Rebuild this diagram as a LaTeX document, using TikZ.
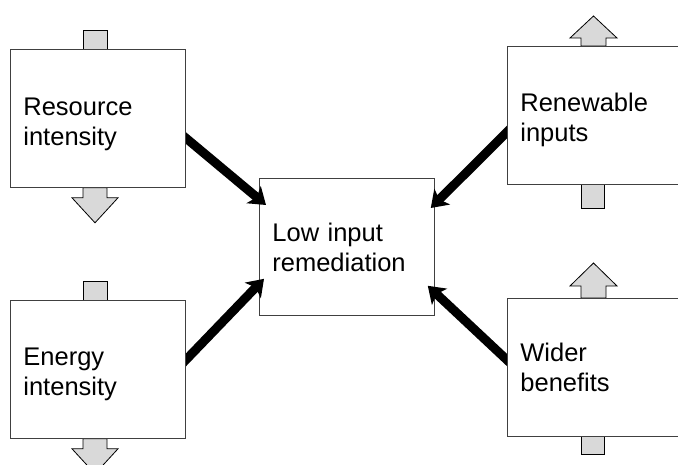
\documentclass[tikz,border=0pt]{standalone}
\usepackage{fontspec}
\setmainfont{Liberation Sans}
\usetikzlibrary{arrows.meta,calc}
\pgfdeclarelayer{back}
\pgfdeclarelayer{mid}
\pgfsetlayers{back,mid,main}
\begin{document}
\begin{tikzpicture}[x=1pt,y=-1pt,
  box/.style={draw=black!75, fill=white, line width=0.8pt, anchor=north west,
    minimum width=175pt, minimum height=138pt, inner xsep=13pt, inner ysep=0pt,
    text width=149pt, align=left, font=\fontsize{25.5}{30}\selectfont},
  drop/.style={execute at begin node={\rule{0pt}{#1}}},
  blk/.style={draw=black, fill=black!15, line width=0.8pt, line join=miter},
  conn/.style={line width=9pt, -{Stealth[length=16pt,width=22pt,inset=4pt]},
    shorten <=-6pt}]
\useasboundingbox (0,0) rectangle (678,465);

% central box sits underneath everything else
\begin{pgfonlayer}{back}
\node[box, minimum height=137pt] (low) at (259,178) {Low input\\remediation};
\end{pgfonlayer}

% the four surrounding boxes
\node[box, drop=28.5pt] (res) at (10,49) {Resource\\intensity};
\node[box, drop=27pt]   (en)  at (10,300) {Energy\\intensity};
\node[box, drop=27.5pt] (ren) at (507,46) {Renewable\\inputs};
\node[box] (wid) at (507,298) {Wider\\benefits};

\begin{pgfonlayer}{mid}
% thick links into the central box
\draw[conn] ($(res.north east)+(0,89)$) -- ($(low.north west)+(7,27)$);
\draw[conn] ($(en.north east)+(0,60)$) -- ($(low.south west)+(5,-37)$);
\draw[conn] ($(ren.north west)+(0,86)$) -- ($(low.north east)+(-4,30)$);
\draw[conn] ($(wid.north west)+(0,62)$) -- ($(low.south east)+(-7,-30)$);

% grey stubs and block arrows on the left boxes
\draw[blk] ($(res.north west)+(73,0)$) rectangle ($(res.north west)+(97,-19)$);
\draw[blk] ($(res.south west)+(73,0)$) -- ++(0,10) -- ++(-11,0) -- ++(23,25)
  -- ++(23,-25) -- ++(-11,0) -- ++(0,-10) -- cycle;
\draw[blk] ($(en.north west)+(73,0)$) rectangle ($(en.north west)+(97,-19)$);
\draw[blk] ($(en.south west)+(73,0)$) -- ++(0,10) -- ++(-11,0) -- ++(23,25)
  -- ++(23,-25) -- ++(-11,0) -- ++(0,-10) -- cycle;

% grey stubs and block arrows on the right boxes
\draw[blk] ($(ren.north west)+(74,0)$) -- ++(0,-8) -- ++(-11,0) -- ++(23.5,-22)
  -- ++(23.5,22) -- ++(-11,0) -- ++(0,8) -- cycle;
\draw[blk] ($(ren.south west)+(74,0)$) rectangle ($(ren.south west)+(97,24)$);
\draw[blk] ($(wid.north west)+(74,0)$) -- ++(0,-12) -- ++(-11,0) -- ++(23.5,-23)
  -- ++(23.5,23) -- ++(-11,0) -- ++(0,12) -- cycle;
\draw[blk] ($(wid.south west)+(74,0)$) rectangle ($(wid.south west)+(97,18)$);
\end{pgfonlayer}
\end{tikzpicture}
\end{document}
